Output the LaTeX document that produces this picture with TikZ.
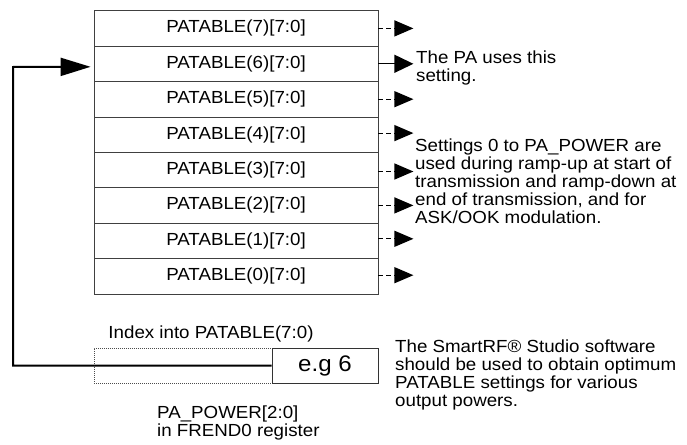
\documentclass[tikz,border=0pt]{standalone}
\usepackage{fontspec}
\setmainfont{Liberation Sans}[FakeStretch=1.07]
\usetikzlibrary{arrows.meta}
\tikzstyle{every node}=[inner sep=0pt]
\tikzstyle{entry}=[draw=black!75, line width=0.8pt, minimum width=284pt, minimum height=35.4pt]
\tikzstyle{dashout}=[dash pattern=on 5pt off 3pt, line width=1.2pt, -{Triangle[length=19pt,width=16pt]}]
\tikzstyle{useout}=[line width=1.2pt, -{Triangle[length=19pt,width=18pt]}]
\tikzstyle{note}=[anchor=west, align=left]

\begin{document}
\begin{tikzpicture}[x=1pt, y=-1pt, font=\fontsize{17.5}{18}\selectfont]
\useasboundingbox (0,0) rectangle (687,444);
% Table
    \node[entry] (pa7) at (236,28.4) {PATABLE(7)[7:0]};
    \node[entry] (pa6) at (236,63.8) {PATABLE(6)[7:0]};
    \node[entry] (pa5) at (236,99.2) {PATABLE(5)[7:0]};
    \node[entry] (pa4) at (236,134.6) {PATABLE(4)[7:0]};
    \node[entry] (pa3) at (236,170.0) {PATABLE(3)[7:0]};
    \node[entry] (pa2) at (236,205.4) {PATABLE(2)[7:0]};
    \node[entry] (pa1) at (236,240.8) {PATABLE(1)[7:0]};
    \node[entry] (pa0) at (236,276.2) {PATABLE(0)[7:0]};
% Outputs
    \draw[dashout] (pa7.east) -- ++(35,0);
    \draw[useout] (pa6.east) -- ++(35,0);
    \draw[dashout] (pa5.east) -- ++(35,0);
    \draw[dashout] ([yshift=1.5pt]pa4.east) -- ++(35,0);
    \draw[dashout] ([yshift=-1.5pt]pa3.east) -- ++(35,0);
    \draw[dashout] (pa2.east) -- ++(35,0);
    \draw[dashout] ([yshift=2pt]pa1.east) -- ++(35,0);
    \draw[dashout] ([yshift=1pt]pa0.east) -- ++(35,0);
% Notes
    \node[note] (usenote) at (416,68) {The PA uses this\\setting.};
    \node[note] (rampnote) at (415,181) {Settings 0 to PA\_POWER are\\used during ramp-up at start of\\transmission and ramp-down at\\end of transmission, and for\\ASK/OOK modulation.};
    \node[note] (toolnote) at (395,375) {The SmartRF® Studio software\\should be used to obtain optimum\\PATABLE settings for various\\output powers.};
% Index register
    \node[draw=black!70, dash pattern=on 1pt off 1pt, line width=0.9pt, minimum width=284pt, minimum height=35pt] (idx) at (236,365.5) {};
    \node[draw=black!80, fill=white, line width=0.8pt, minimum width=106pt, minimum height=35pt, font=\fontsize{22.5}{24}\selectfont] (eg) at (325,365.5) {e.g 6};
    \node (idxlabel) at (211,333.5) {Index into PATABLE(7:0)};
    \node[note] (powerlabel) at (157,423) {PA\_POWER[2:0]\\in FREND0 register};
% Feedback
    \coordinate (bend) at (13,67);
    \draw[line width=2pt, -{Triangle[length=30pt,width=18pt]}, shorten >=3pt] (eg.west) -| (bend) -- ([yshift=-3pt]pa6.west);
\end{tikzpicture}
\end{document}
